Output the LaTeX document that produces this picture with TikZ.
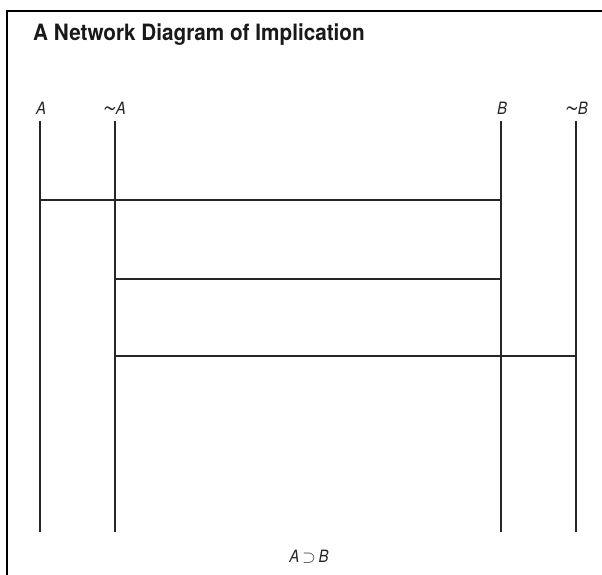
\documentclass[tikz,border=0pt]{standalone}
\usepackage{fontspec}
\setmainfont{TeX Gyre Heros}
\newfontfamily\titlefont[FakeStretch=0.92]{TeX Gyre Heros}
\newfontfamily\labfont[FakeStretch=0.88]{TeX Gyre Heros}
\newcommand{\tld}{\raisebox{-2.2pt}{\scalebox{1.6}[1.3]{\textasciitilde}}\kern-0.5pt}
\begin{document}
\begin{tikzpicture}[x=1pt,y=-1pt,
  wire/.style={line width=2pt, draw=black!85},
  frameline/.style={line width=2.6pt, draw=black},
  lab/.style={font=\labfont\fontsize{17}{17}\selectfont\itshape, text=black!85, inner sep=0pt, anchor=base},
  titletext/.style={font=\titlefont\fontsize{22.5}{23}\selectfont\bfseries, text=black!90, inner sep=0pt, anchor=base west}]
\useasboundingbox (0,0) rectangle (602,575);
\draw[frameline] (7,576) -- (7,11) -- (603,11);
\node[titletext] (title) at (33,41) {A Network Diagram of Implication};
% labels
\node[lab] (lA) at (41,114) {A};
\node[lab] (lnA) at (114,114) {\tld A};
\node[lab] (lB) at (502,114) {B};
\node[lab] (lnB) at (576,114) {\tld B};
\node[lab] (impl) at (309,562.5) {A\,\raisebox{0.3pt}{$\supset$}\,B};
% vertical wires
\coordinate (At) at (40,121); \coordinate (Ab) at (40,532);
\coordinate (nAt) at (115,121); \coordinate (nAb) at (115,532);
\coordinate (Bt) at (501,121); \coordinate (Bb) at (501,532);
\coordinate (nBt) at (576,121); \coordinate (nBb) at (576,532);
\draw[wire] (At) -- (Ab);
\draw[wire] (nAt) -- (nAb);
\draw[wire] (Bt) -- (Bb);
\draw[wire] (nBt) -- (nBb);
% horizontal wires
\draw[wire] (At |- 0,200) -- (Bt |- 0,200);
\draw[wire] (nAt |- 0,279) -- (Bt |- 0,279);
\draw[wire] (nAt |- 0,356) -- (nBt |- 0,356);
\end{tikzpicture}
\end{document}
